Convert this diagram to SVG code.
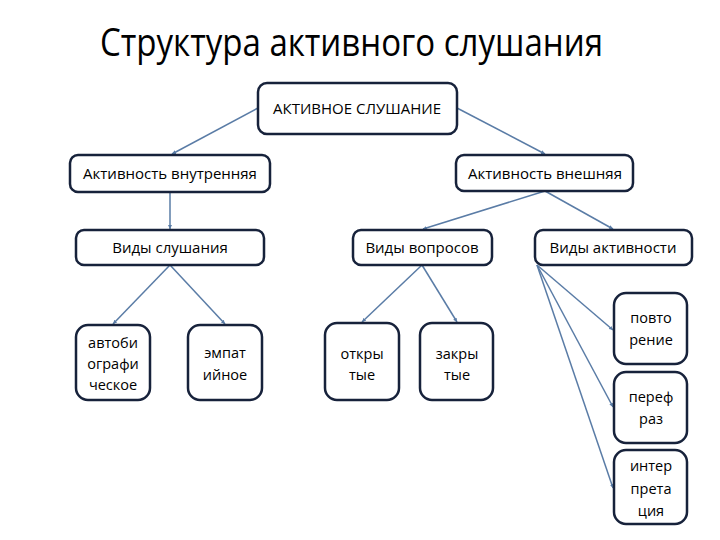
<svg xmlns="http://www.w3.org/2000/svg" width="720" height="540" viewBox="0 0 720 540">
<style>
.box{fill:#fff;stroke:#17223b;stroke-width:2.5}
.t{font-family:"Open Sans","Liberation Sans",sans-serif;font-size:15px;fill:#000;text-anchor:middle}
.s{font-family:"Open Sans","Liberation Sans",sans-serif;font-size:14.5px;fill:#000;text-anchor:middle}
.ln{stroke:#5a7ca6;stroke-width:1.5;fill:none;marker-end:url(#ah)}
.title{font-family:"Open Sans","Liberation Sans",sans-serif;font-size:38px;fill:#000}
</style>
<defs>
<marker id="ah" markerWidth="5" markerHeight="5" refX="4" refY="2.5" orient="auto" markerUnits="userSpaceOnUse">
<path d="M0,0.5 L4,2.5 L0,4.5 z" fill="#5a7ca6"/>
</marker>
</defs>
<rect width="720" height="540" fill="#fff"/>
<text class="title" x="100" y="56" textLength="503" lengthAdjust="spacingAndGlyphs">Структура активного слушания</text>
<g id="connectors">
<line class="ln" x1="258" y1="108" x2="172" y2="154"/>
<line class="ln" x1="457" y1="108" x2="545" y2="154"/>
<line class="ln" x1="170" y1="192" x2="170" y2="229"/>
<line class="ln" x1="545" y1="191" x2="423" y2="229"/>
<line class="ln" x1="545" y1="191" x2="613" y2="229"/>
<line class="ln" x1="170" y1="265" x2="113" y2="324"/>
<line class="ln" x1="170" y1="265" x2="225" y2="324"/>
<line class="ln" x1="422" y1="265" x2="362" y2="322"/>
<line class="ln" x1="422" y1="265" x2="457" y2="322"/>
<line class="ln" x1="537" y1="265" x2="613" y2="330"/>
<line class="ln" x1="537" y1="265" x2="613" y2="407"/>
<line class="ln" x1="537" y1="265" x2="613" y2="488"/>
</g>
<g id="n-root"><rect class="box" x="258" y="83" width="199" height="51" rx="9"/><text class="t" x="357" y="114">АКТИВНОЕ СЛУШАНИЕ</text></g>
<g id="n-inner"><rect class="box" x="70" y="155" width="200" height="37" rx="8"/><text class="t" x="170" y="179">Активность внутренняя</text></g>
<g id="n-outer"><rect class="box" x="456" y="155" width="177" height="36" rx="8"/><text class="t" x="545" y="179">Активность внешняя</text></g>
<g id="n-listen"><rect class="box" x="76" y="230" width="188" height="35" rx="8"/><text class="t" x="170" y="253">Виды слушания</text></g>
<g id="n-questions"><rect class="box" x="353" y="230" width="139" height="35" rx="8"/><text class="t" x="422" y="253">Виды вопросов</text></g>
<g id="n-activity"><rect class="box" x="535" y="230" width="157" height="35" rx="8"/><text class="t" x="613" y="253">Виды активности</text></g>
<g id="n-auto"><rect class="box" x="76" y="325" width="74" height="75" rx="12"/><text class="s" x="113" y="348">автоби</text><text class="s" x="113" y="369">ографи</text><text class="s" x="113" y="390">ческое</text></g>
<g id="n-empat"><rect class="box" x="188" y="325" width="74" height="75" rx="12"/><text class="s" x="225" y="358">эмпат</text><text class="s" x="225" y="380">ийное</text></g>
<g id="n-open"><rect class="box" x="325" y="323" width="74" height="77" rx="12"/><text class="s" x="362" y="359">откры</text><text class="s" x="362" y="380">тые</text></g>
<g id="n-closed"><rect class="box" x="420" y="323" width="73" height="77" rx="12"/><text class="s" x="457" y="359">закры</text><text class="s" x="457" y="380">тые</text></g>
<g id="n-repeat"><rect class="box" x="614" y="293" width="73" height="71" rx="12"/><text class="s" x="651" y="323">повто</text><text class="s" x="651" y="345">рение</text></g>
<g id="n-paraphrase"><rect class="box" x="614" y="372" width="73" height="71" rx="12"/><text class="s" x="651" y="402">переф</text><text class="s" x="651" y="424">раз</text></g>
<g id="n-interp"><rect class="box" x="614" y="450" width="73" height="74" rx="12"/><text class="s" x="651" y="471">интер</text><text class="s" x="651" y="494">прета</text><text class="s" x="651" y="516">ция</text></g>
</svg>
